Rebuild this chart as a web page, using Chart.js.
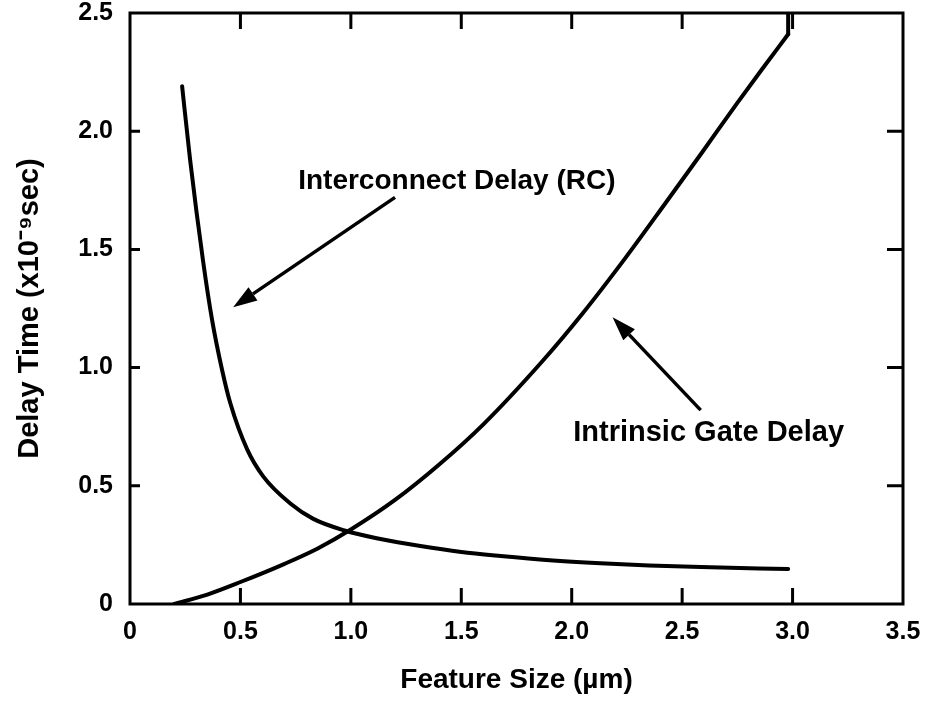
<!DOCTYPE html>
<html>
<head>
<meta charset="utf-8">
<script src="https://cdn.jsdelivr.net/npm/chart.js@4/dist/chart.umd.min.js"></script>
<style>
html,body{margin:0;padding:0;background:#fff;}
#wrap{width:926px;height:704px;position:relative;}
</style>
</head>
<body>
<div id="wrap"><canvas id="c" width="926" height="704"></canvas></div>
<script>
// ---- data ----
const rcX = [0.236, 0.272, 0.331, 0.372, 0.417, 0.454, 0.53, 0.603, 0.726, 0.83, 0.975, 1.134, 1.315, 1.5, 1.678, 1.9, 2.13, 2.35, 2.585, 2.98];
const rcY = [2.19, 1.88, 1.45, 1.2, 0.99, 0.85, 0.655, 0.54, 0.425, 0.36, 0.31, 0.275, 0.245, 0.22, 0.203, 0.185, 0.172, 0.163, 0.156, 0.148];
const gateX = [0.2, 0.35, 0.5, 0.7, 0.85, 1.0, 1.2, 1.4, 1.6, 1.87, 2.05, 2.24, 2.42, 2.59, 2.75, 2.86, 2.98];
const gateY = [0, 0.04, 0.093, 0.17, 0.235, 0.315, 0.44, 0.59, 0.76, 1.03, 1.23, 1.46, 1.69, 1.91, 2.12, 2.26, 2.41];
const gateTopX = [2.98, 2.98];
const gateTopY = [2.41, 2.5];
const xTickLabels = ['0', '0.5', '1.0', '1.5', '2.0', '2.5', '3.0', '3.5'];
const yTickLabels = ['0', '0.5', '1.0', '1.5', '2.0', '2.5'];
const xTitle = 'Feature Size (\u00b5m)';
const yTitle = 'Delay Time (x10\u207b\u2079sec)';
const rcLabel = 'Interconnect Delay (RC)';
const gateLabel = 'Intrinsic Gate Delay';
// annotation anchors in data units
const rcText = [1.48, 1.79];
const rcArrow = [[1.20, 1.72], [0.467, 1.255]];
const gateText = [2.62, 0.723];
const gateArrow = [[2.584, 0.82], [2.185, 1.213]];

const FONT = '"Liberation Sans", Arial, Helvetica, sans-serif';

function pts(xs, ys) { return xs.map((x, i) => ({x: x, y: ys[i]})); }

const frame = {
  id: 'frame',
  afterDatasetsDraw(chart) {
    const {ctx, chartArea: a, scales: {x, y}} = chart;
    ctx.save();
    ctx.strokeStyle = '#000';
    ctx.lineWidth = 3;
    ctx.strokeRect(a.left, a.top, a.right - a.left, a.bottom - a.top);
    ctx.beginPath();
    for (let i = 1; i < xTickLabels.length - 1; i++) {
      const px = x.getPixelForValue(i * 0.5);
      ctx.moveTo(px, a.bottom); ctx.lineTo(px, a.bottom - 16);
      ctx.moveTo(px, a.top); ctx.lineTo(px, a.top + 16);
    }
    for (let i = 1; i < yTickLabels.length - 1; i++) {
      const py = y.getPixelForValue(i * 0.5);
      ctx.moveTo(a.left, py); ctx.lineTo(a.left + 10, py);
      ctx.moveTo(a.right, py); ctx.lineTo(a.right - 16, py);
    }
    ctx.stroke();

    // annotations
    ctx.fillStyle = '#000';
    ctx.textAlign = 'center';
    ctx.textBaseline = 'middle';
    ctx.font = 'bold 28px ' + FONT;
    ctx.fillText(rcLabel, x.getPixelForValue(rcText[0]), y.getPixelForValue(rcText[1]));
    ctx.font = 'bold 29px ' + FONT;
    ctx.fillText(gateLabel, x.getPixelForValue(gateText[0]), y.getPixelForValue(gateText[1]));

    function arrow(p) {
      const x0 = x.getPixelForValue(p[0][0]), y0 = y.getPixelForValue(p[0][1]);
      const x1 = x.getPixelForValue(p[1][0]), y1 = y.getPixelForValue(p[1][1]);
      const ang = Math.atan2(y1 - y0, x1 - x0);
      const hl = 24, hw = 8;
      const bx = x1 - hl * Math.cos(ang), by = y1 - hl * Math.sin(ang);
      ctx.lineWidth = 3.5;
      ctx.beginPath(); ctx.moveTo(x0, y0); ctx.lineTo(bx, by); ctx.stroke();
      ctx.beginPath();
      ctx.moveTo(x1, y1);
      ctx.lineTo(bx + hw * Math.sin(ang), by - hw * Math.cos(ang));
      ctx.lineTo(bx - hw * Math.sin(ang), by + hw * Math.cos(ang));
      ctx.closePath(); ctx.fill();
    }
    arrow(rcArrow);
    arrow(gateArrow);
    ctx.restore();
  }
};

const bg = {
  id: 'bg',
  beforeDraw(chart) {
    const ctx = chart.ctx;
    ctx.save(); ctx.fillStyle = '#fff'; ctx.fillRect(0, 0, chart.width, chart.height); ctx.restore();
  }
};

const lineStyle = {showLine: true, borderColor: '#000', borderWidth: 4, pointRadius: 0,
  cubicInterpolationMode: 'monotone', fill: false, borderCapStyle: 'round', borderJoinStyle: 'round'};

new Chart(document.getElementById('c'), {
  type: 'scatter',
  data: {
    datasets: [
      Object.assign({label: rcLabel, data: pts(rcX, rcY)}, lineStyle),
      Object.assign({label: gateLabel, data: pts(gateX, gateY)}, lineStyle),
      Object.assign({label: gateLabel + ' top', data: pts(gateTopX, gateTopY)}, lineStyle)
    ]
  },
  options: {
    responsive: false,
    animation: false,
    devicePixelRatio: 1,
    layout: {padding: {top: 13, right: 23, left: 0, bottom: 0}},
    plugins: {legend: {display: false}, tooltip: {enabled: false}},
    scales: {
      x: {
        type: 'linear', min: 0, max: 3.5,
        afterFit(s) { s.height = 100; s.paddingLeft = 0; s.paddingRight = 0; },
        grid: {display: false, drawTicks: false},
        border: {display: false},
        ticks: {stepSize: 0.5, padding: 13, color: '#000', font: {family: FONT, size: 25, weight: 'bold'},
                maxRotation: 0, autoSkip: false,
                callback: (v, i) => xTickLabels[i]},
        title: {display: true, text: xTitle, color: '#000', font: {family: FONT, size: 28, weight: 'bold'},
                padding: {top: 0, bottom: 7}}
      },
      y: {
        type: 'linear', min: 0, max: 2.5,
        afterFit(s) { s.width = 130; s.paddingTop = 0; s.paddingBottom = 0; },
        grid: {display: false, drawTicks: false},
        border: {display: false},
        ticks: {stepSize: 0.5, padding: 17, color: '#000', font: {family: FONT, size: 25, weight: 'bold'},
                callback: (v, i) => yTickLabels[i]},
        title: {display: true, text: yTitle, color: '#000', font: {family: FONT, size: 29, weight: 'bold'},
                padding: {top: 13, bottom: 0}}
      }
    }
  },
  plugins: [bg, frame]
});
</script>
</body>
</html>
